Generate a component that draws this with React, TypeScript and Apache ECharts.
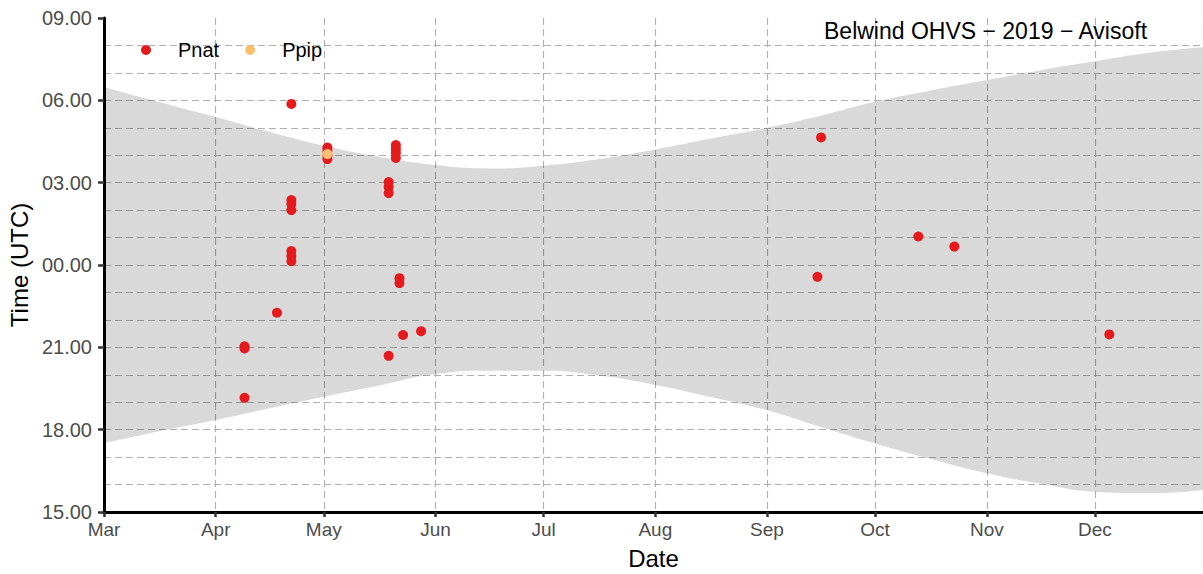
import React, { useEffect, useRef } from "react";
import * as echarts from "echarts";

// Night band (sunset -> sunrise next morning), hours UTC
const bandDates = [
  "2019-03-01", "2019-03-16", "2019-04-01", "2019-04-16", "2019-05-01", "2019-05-16",
  "2019-06-01", "2019-06-16", "2019-07-01", "2019-07-16", "2019-08-01", "2019-08-16",
  "2019-09-01", "2019-09-16", "2019-10-01", "2019-10-16", "2019-11-01", "2019-11-16",
  "2019-12-01", "2019-12-16", "2019-12-31",
];
const sunset = [17.5, 17.93, 18.35, 18.78, 19.2, 19.6, 20.03, 20.15, 20.15, 19.98, 19.63, 19.2, 18.71, 18.1, 17.5, 16.95, 16.41, 16.03, 15.74, 15.68, 15.8];
const sunrise = [6.49, 5.95, 5.39, 4.85, 4.35, 3.95, 3.64, 3.52, 3.62, 3.85, 4.21, 4.6, 5.0, 5.45, 5.95, 6.35, 6.74, 7.1, 7.42, 7.73, 7.93];

// Detections (date, time of day in hours UTC)
const pnatDates = [
  "2019-04-09", "2019-04-09", "2019-04-09",
  "2019-04-18",
  "2019-04-22", "2019-04-22", "2019-04-22", "2019-04-22", "2019-04-22", "2019-04-22", "2019-04-22",
  "2019-05-02", "2019-05-02", "2019-05-02", "2019-05-02",
  "2019-05-19", "2019-05-19", "2019-05-19", "2019-05-19",
  "2019-05-21", "2019-05-21", "2019-05-21", "2019-05-21",
  "2019-05-22", "2019-05-22",
  "2019-05-23",
  "2019-05-28",
  "2019-09-15", "2019-09-16",
  "2019-10-13", "2019-10-23",
  "2019-12-05",
];
const pnatTimes = [
  21.04, 20.96, 19.16,
  22.26,
  5.87, 2.37, 2.22, 2.0, 0.51, 0.33, 0.14,
  4.28, 4.15, 4.0, 3.86,
  3.02, 2.84, 2.62, 20.69,
  4.37, 4.23, 4.08, 3.9,
  23.52, 23.34,
  21.45,
  21.59,
  23.57, 4.65,
  1.04, 0.67,
  21.47,
];
const ppipDates = ["2019-05-02"];
const ppipTimes = [4.04];

const yTicks = ["15.00", "18.00", "21.00", "00.00", "03.00", "06.00", "09.00"];
const monthNames = ["Jan", "Feb", "Mar", "Apr", "May", "Jun", "Jul", "Aug", "Sep", "Oct", "Nov", "Dec"];

const toAxis = (h: number) => (h < 15 ? h + 24 : h);
const FONT = "'Liberation Sans', Arial, sans-serif";

export default function App() {
  const ref = useRef<HTMLDivElement>(null);
  useEffect(() => {
    const chart = echarts.init(ref.current!, null, { renderer: "svg" });
    const dashed = { color: "#b0b0b0", width: 1.1, type: [7, 4] as any };
    chart.setOption({
      animation: false,
      backgroundColor: "#ffffff",
      textStyle: { fontFamily: FONT },
      title: {
        text: "Belwind OHVS \u2212 2019 \u2212 Avisoft",
        left: 824,
        top: 19,
        padding: 0,
        textStyle: { fontSize: 23, fontWeight: "normal", color: "#000000", fontFamily: FONT },
      },
      legend: {
        left: 141,
        top: 40,
        padding: 0,
        itemWidth: 10,
        itemHeight: 10,
        itemGap: 26,
        icon: "circle",
        data: ["Pnat", "Ppip"],
        textStyle: { fontSize: 20, color: "#000000", fontFamily: FONT, padding: [0, 0, 0, 22] },
      },
      grid: { left: 104, right: 0, top: 18, bottom: 62, outerBoundsMode: "none", containLabel: false },
      xAxis: {
        type: "time",
        min: "2019-03-01",
        max: "2019-12-31",
        splitNumber: 10,
        minInterval: 28 * 86400000,
        maxInterval: 31 * 86400000,
        name: "Date",
        nameLocation: "middle",
        nameGap: 34,
        nameTextStyle: { fontSize: 24, color: "#000000", fontFamily: FONT },
        axisLine: { show: true, lineStyle: { color: "#000000", width: 3 } },
        axisTick: { show: true, length: 5, lineStyle: { color: "#333333", width: 2.5 } },
        axisLabel: {
          fontSize: 19,
          color: "#4d4d4d",
          margin: 8,
          fontFamily: FONT,
          formatter: (v: number) => monthNames[new Date(v).getMonth()],
        },
        splitLine: { show: true, lineStyle: dashed },
      },
      yAxis: {
        type: "value",
        min: 15,
        max: 33,
        interval: 3,
        name: "Time (UTC)",
        nameLocation: "middle",
        nameRotate: 90,
        nameGap: 72,
        nameTextStyle: { fontSize: 24, color: "#000000", fontFamily: FONT },
        axisLine: { show: true, lineStyle: { color: "#000000", width: 3 } },
        axisTick: { show: true, length: 6, lineStyle: { color: "#333333", width: 2.5 } },
        axisLabel: {
          fontSize: 20,
          color: "#4d4d4d",
          margin: 12,
          fontFamily: FONT,
          formatter: (v: number) => yTicks[Math.round((v - 15) / 3)] ?? "",
        },
        splitLine: { show: true, showMaxLine: false, showMinLine: false, lineStyle: dashed },
        minorTick: { show: true, splitNumber: 3, length: 0, lineStyle: { width: 0 } },
        minorSplitLine: { show: true, lineStyle: dashed },
      },
      series: [
        {
          name: "night-base",
          type: "line",
          stack: "night",
          smooth: 0.5,
          showSymbol: false,
          silent: true,
          lineStyle: { width: 0, opacity: 0 },
          data: bandDates.map((d, i) => [d, sunset[i]]),
          z: 1,
        },
        {
          name: "night",
          type: "line",
          stack: "night",
          smooth: 0.5,
          showSymbol: false,
          silent: true,
          lineStyle: { width: 0, opacity: 0 },
          areaStyle: { color: "rgba(0,0,0,0.15)", opacity: 1 },
          data: bandDates.map((d, i) => [d, toAxis(sunrise[i]) - sunset[i]]),
          z: 1,
        },
        {
          name: "Pnat",
          type: "scatter",
          symbol: "circle",
          symbolSize: 10,
          itemStyle: { color: "#e41a1c", opacity: 1 },
          data: pnatDates.map((d, i) => [d, toAxis(pnatTimes[i])]),
          z: 3,
        },
        {
          name: "Ppip",
          type: "scatter",
          symbol: "circle",
          symbolSize: 10,
          itemStyle: { color: "#fdbf6f", opacity: 1 },
          data: ppipDates.map((d, i) => [d, toAxis(ppipTimes[i])]),
          z: 4,
        },
      ],
    });
    return () => chart.dispose();
  }, []);
  return (
    <div
      ref={ref}
      style={{ position: "fixed", left: 0, top: 0, width: 1203, height: 574, background: "#fff" }}
    />
  );
}
